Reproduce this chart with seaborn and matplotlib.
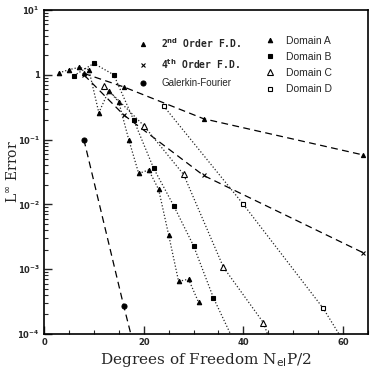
import numpy as np
import pandas as pd
import matplotlib
matplotlib.use("Agg")
import matplotlib.pyplot as plt
from matplotlib.lines import Line2D
from matplotlib.ticker import FixedLocator, FuncFormatter, LogLocator, NullFormatter
import seaborn as sns

# Convergence data: L-infinity error vs degrees of freedom
fd2_x = [8, 16, 32, 64]
fd2_y = [1.05, 0.65, 0.21, 0.058]

fd4_x = [8, 16, 32, 64]
fd4_y = [1.0, 0.24, 0.028, 0.0018]

gf_x = [8, 16, 24]
gf_y = [0.1, 2.7e-4, 1e-6]

dom_a_x = [3, 5, 7, 9, 11, 13, 15, 17, 19, 21, 23, 25, 27, 29, 31]
dom_a_y = [1.07, 1.2, 1.3, 1.2, 0.26, 0.57, 0.38, 0.1, 0.03, 0.034, 0.017,
           3.4e-3, 6.5e-4, 7e-4, 3.1e-4]

dom_b_x = [6, 10, 14, 18, 22, 26, 30, 34, 38]
dom_b_y = [0.97, 1.5, 1.0, 0.2, 0.036, 0.0096, 0.0023, 3.6e-4, 8e-5]

dom_c_x = [12, 20, 28, 36, 44, 52]
dom_c_y = [0.68, 0.165, 0.029, 1.07e-3, 1.5e-4, 3e-6]

dom_d_x = [24, 40, 56, 72]
dom_d_y = [0.33, 0.01, 2.5e-4, 2.5e-6]

sns.set_theme(style="ticks")
plt.rcParams["font.family"] = ["DejaVu Sans"]

fig = plt.figure(figsize=(3.74, 3.72), dpi=100)
ax = fig.add_axes([44 / 374, 1 - 334 / 372, 324 / 374, 324 / 372])

dash = (5.5, 3.5)
dot = (1, 1.6)

series = [
    (fd2_x, fd2_y, "^", 3.0, "black", dash, "black"),
    (fd4_x, fd4_y, "x", 3.0, "black", dash, "black"),
    (gf_x, gf_y, "o", 3.6, "black", dash, "black"),
    (dom_a_x, dom_a_y, "^", 3.2, "black", dot, "0.15"),
    (dom_b_x, dom_b_y, "s", 3.5, "black", dot, "0.15"),
    (dom_c_x, dom_c_y, "^", 3.8, "white", dot, "0.15"),
    (dom_d_x, dom_d_y, "s", 3.2, "white", dot, "0.15"),
]

for xs, ys, mk, ms, mfc, ds, col in series:
    df = pd.DataFrame({"x": xs, "y": ys})
    sns.lineplot(data=df, x="x", y="y", ax=ax, sort=False, color=col,
                 lw=0.9, marker=mk, markersize=ms, markerfacecolor=mfc,
                 markeredgecolor="black", markeredgewidth=0.8)
    ax.lines[-1].set_dashes(ds)

ax.set_yscale("log")
ax.set_xlim(0, 65)
ax.set_ylim(1e-4, 1e1)

# Ticks pointing inward, bottom and left only
ax.xaxis.set_major_locator(FixedLocator([0, 20, 40, 60]))
ax.xaxis.set_minor_locator(FixedLocator(np.arange(0, 66, 5)))
ax.yaxis.set_major_locator(LogLocator(base=10, numticks=10))
ax.yaxis.set_minor_locator(LogLocator(base=10, subs=np.arange(2, 10), numticks=20))
ax.yaxis.set_minor_formatter(NullFormatter())


def ylab(v, pos):
    e = int(round(np.log10(v)))
    if e == 0:
        return "1"
    return r"$\mathbf{10^{%d}}$" % e


ax.yaxis.set_major_formatter(FuncFormatter(ylab))
ax.tick_params(axis="both", which="major", direction="in", length=6, width=1,
               labelsize=6, top=False, right=False, pad=3)
ax.tick_params(axis="both", which="minor", direction="in", length=3, width=0.8,
               top=False, right=False)
for lab in ax.get_xticklabels() + ax.get_yticklabels():
    lab.set_fontweight("bold")

for sp in ax.spines.values():
    sp.set_linewidth(1.2)
    sp.set_color("black")
    sp.set_visible(True)

ax.set_xlabel(r"Degrees of Freedom N$_{\mathrm{el}}$P/2", family="DejaVu Serif",
              fontsize=11, labelpad=3)
ax.set_ylabel(r"L$^{\infty}$ Error", family="DejaVu Serif", fontsize=10)
ax.yaxis.set_label_coords(-0.075, 0.5)

# Two legend groups
mk_kw = dict(color="black", linestyle="none", markeredgecolor="black",
             markeredgewidth=0.8)
h_left = [
    Line2D([], [], marker="^", markersize=3.0, markerfacecolor="black", **mk_kw),
    Line2D([], [], marker="x", markersize=3.0, **mk_kw),
    Line2D([], [], marker="o", markersize=3.6, markerfacecolor="black", **mk_kw),
]
lab_left = [r"2$^{\mathbf{nd}}$ Order F.D.", r"4$^{\mathbf{th}}$ Order F.D.",
            "Galerkin-Fourier"]
leg1 = ax.legend(h_left, lab_left, loc="upper left", bbox_to_anchor=(0.275, 0.935),
                 frameon=False, handlelength=1.0, handletextpad=1.4,
                 labelspacing=0.75, borderpad=0, fontsize=7)
for t in leg1.get_texts()[:2]:
    t.set_family("DejaVu Sans Mono")
    t.set_fontweight("bold")
leg1.get_texts()[2].set_family("Liberation Sans")
ax.add_artist(leg1)

h_right = [
    Line2D([], [], marker="^", markersize=3.2, markerfacecolor="black", **mk_kw),
    Line2D([], [], marker="s", markersize=3.5, markerfacecolor="black", **mk_kw),
    Line2D([], [], marker="^", markersize=3.8, markerfacecolor="white", **mk_kw),
    Line2D([], [], marker="s", markersize=3.2, markerfacecolor="white", **mk_kw),
]
lab_right = ["Domain A", "Domain B", "Domain C", "Domain D"]
leg2 = ax.legend(h_right, lab_right, loc="upper left", bbox_to_anchor=(0.665, 0.937),
                 frameon=False, handlelength=1.0, handletextpad=1.0,
                 labelspacing=0.6, borderpad=0, fontsize=7.5)
for t in leg2.get_texts():
    t.set_family("Liberation Sans")

fig.savefig("out.png", dpi=100)
